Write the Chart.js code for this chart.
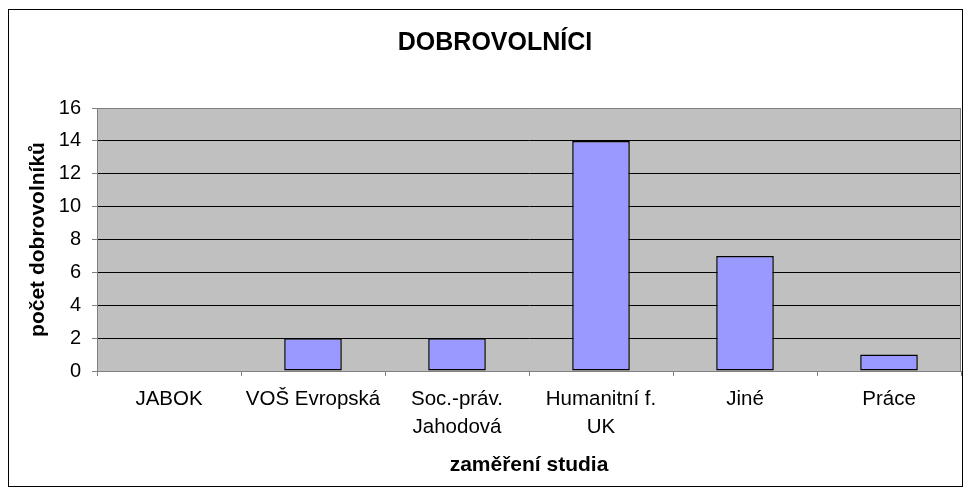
<!DOCTYPE html>
<html>
<head>
<meta charset="utf-8">
<script src="https://cdn.jsdelivr.net/npm/chart.js@4"></script>
<style>
  body { margin: 0; background: #fff; }
</style>
</head>
<body>
<canvas id="dobrChart" width="971" height="495"></canvas>
<script>
// data
var categories = ['JABOK', 'VOŠ Evropská', ['Soc.-práv.', 'Jahodová'], ['Humanitní f.', 'UK'], 'Jiné', 'Práce'];
var pocty = [0, 2, 2, 14, 7, 1];
var yMin = 0;
var yMax = 16;
var yStep = 2;

var fontFam = '"Liberation Sans", Arial, sans-serif';

// gray plot area + frame, white page, outer border
var frames = {
  id: 'frames',
  beforeDraw: function(chart) {
    var c = chart.ctx, a = chart.chartArea;
    c.save();
    c.fillStyle = '#ffffff';
    c.fillRect(0, 0, chart.width, chart.height);
    c.fillStyle = '#c0c0c0';
    c.fillRect(a.left, a.top, a.right - a.left, a.bottom - a.top);
    c.restore();
  },
  beforeDatasetsDraw: function(chart) {
    var c = chart.ctx, a = chart.chartArea;
    c.save();
    c.strokeStyle = '#808080';
    c.lineWidth = 1;
    c.beginPath();
    c.moveTo(Math.round(a.right) - 0.5, a.top);
    c.lineTo(Math.round(a.right) - 0.5, a.bottom);
    c.stroke();
    c.restore();
  },
  afterDraw: function(chart) {
    var c = chart.ctx;
    c.save();
    c.strokeStyle = '#000000';
    c.lineWidth = 1;
    c.strokeRect(8.5, 9.5, 954, 477);
    c.restore();
  }
};

var dobrChart = new Chart(document.getElementById('dobrChart'), {
  type: 'bar',
  data: {
    labels: categories,
    datasets: [{
      label: 'počet dobrovolníků',
      data: pocty,
      backgroundColor: '#9999ff',
      borderColor: '#000000',
      borderWidth: 1.5,
      borderSkipped: false,
      barPercentage: 0.4,
      categoryPercentage: 1.0
    }]
  },
  options: {
    responsive: false,
    animation: false,
    // left padding pushes the title centre to ~495 like the original
    layout: { padding: { left: 29, right: 10, top: 0, bottom: 0 } },
    plugins: {
      legend: { display: false },
      tooltip: { enabled: false },
      title: {
        display: true,
        text: 'DOBROVOLNÍCI',
        color: '#000',
        font: { family: fontFam, size: 25, weight: 'bold', lineHeight: 1.2 },
        padding: { top: 28, bottom: 50 }
      }
    },
    scales: {
      x: {
        grid: {
          offset: true,
          drawOnChartArea: false,
          drawTicks: true,
          tickLength: 5,
          color: '#808080'
        },
        border: { color: '#808080', width: 1 },
        ticks: {
          color: '#000',
          padding: 9,
          maxRotation: 0,
          autoSkip: false,
          font: { family: fontFam, size: 20.5, lineHeight: 1.37 }
        },
        title: {
          display: true,
          text: 'zaměření studia',
          color: '#000',
          font: { family: fontFam, size: 21, weight: 'bold', lineHeight: 1.2 },
          padding: { top: 0, bottom: 17 }
        },
        afterFit: function(scale) { scale.height = 124; }
      },
      y: {
        min: yMin,
        max: yMax,
        grid: {
          color: function(ctx) { return ctx.tick && ctx.tick.value === yMax ? '#808080' : '#000000'; },
          tickColor: '#808080',
          tickLength: 5,
          lineWidth: 1
        },
        border: { color: '#808080', width: 1 },
        ticks: {
          stepSize: yStep,
          color: '#000',
          padding: 11,
          font: { family: fontFam, size: 20 }
        },
        title: {
          display: true,
          text: 'počet dobrovolníků',
          color: '#000',
          font: { family: fontFam, size: 21, weight: 'bold', lineHeight: 0.86 },
          padding: { top: 0, bottom: 0 }
        },
        afterFit: function(scale) { scale.width = 68; }
      }
    }
  },
  plugins: [frames]
});
</script>
</body>
</html>
